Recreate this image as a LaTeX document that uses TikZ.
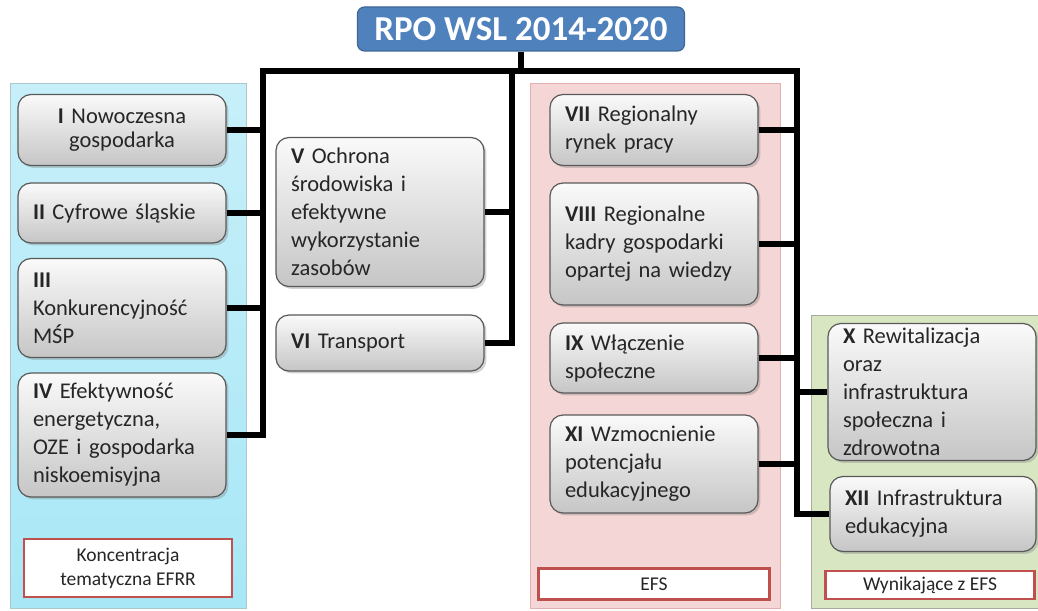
\documentclass[tikz,border=0pt]{standalone}
\usepackage{fontspec}
\setmainfont{Carlito}
\usetikzlibrary{shadows}

\definecolor{tytul}{RGB}{79,129,189}
\definecolor{efrr}{RGB}{168,231,246}
\definecolor{efs}{RGB}{245,214,214}
\definecolor{wyn}{RGB}{216,230,194}
\definecolor{ramka}{RGB}{192,80,77}

% Pixelkoordinaten (y nach unten)
\def\pkt#1#2{({#1},{-(#2)})}

\tikzset{
	os/.style={rounded corners=13pt, draw=black!65, line width=1.2pt,
		top color=gray!4, bottom color=gray!45, drop shadow={opacity=0.35},
		text width=#1, inner xsep=15pt, inner ysep=2pt, align=left,
		font=\fontsize{22.5}{28}\selectfont, text=black!85},
	os/.default=178pt,
	opis/.style={draw=ramka, line width=2.5pt, fill=white, align=center,
		font=\fontsize{19.5}{24}\selectfont, text=black!85},
	polaczenie/.style={line width=6pt, black}
}

\begin{document}
\begin{tikzpicture}[x=1pt,y=1pt]
\useasboundingbox (0,0) rectangle (1038,-610);
\fill[white] (0,0) rectangle (1038,-610);

% tla
\shade[top color=efrr!65, bottom color=efrr, draw=efrr!70!black!60] \pkt{10}{83} rectangle \pkt{246}{608};
\fill[efs, draw=ramka!45] \pkt{530}{83} rectangle \pkt{780}{608};
\fill[wyn, draw=wyn!60!black!70] \pkt{811}{315} rectangle \pkt{1040}{608};

% tytul
\node[rounded corners=7pt, fill=tytul, draw=tytul!80!black, line width=1.2pt,
	minimum width=327pt, minimum height=44pt, text=white,
	font=\fontsize{35}{35}\selectfont\bfseries] (rpo) at (521,-29) {RPO WSL 2014-2020};

% osie
\node[os, align=center, minimum height=71pt, font=\fontsize{22.5}{24}\selectfont] (o1) at (122,-130) {\textbf{I} Nowoczesna\\ gospodarka};
\node[os, minimum height=60pt] (o2) at (122,-213) {\textbf{II} Cyfrowe śląskie};
\node[os, minimum height=99pt] (o3) at (122,-308) {\textbf{III}\\ Konkurencyjność\\ MŚP};
\node[os, minimum height=124pt] (o4) at (122,-435) {\textbf{IV} Efektywność\\ energetyczna,\\ OZE i gospodarka\\ niskoemisyjna};
\node[os, minimum height=149pt] (o5) at (380,-212) {\textbf{V} Ochrona\\ środowiska i\\ efektywne\\ wykorzystanie\\ zasobów};
\node[os, minimum height=56pt] (o6) at (380,-343) {\textbf{VI} Transport};
\node[os, minimum height=71pt] (o7) at (654,-130) {\textbf{VII} Regionalny\\ rynek pracy};
\node[os, minimum height=122pt] (o8) at (654,-244) {\textbf{VIII} Regionalne\\ kadry gospodarki\\ opartej na wiedzy};
\node[os, minimum height=70pt] (o9) at (654,-358) {\textbf{IX} Włączenie\\ społeczne};
\node[os, minimum height=137pt] (o10) at (932,-392) {\textbf{X} Rewitalizacja\\ oraz\\ infrastruktura\\ społeczna i\\ zdrowotna};
\node[os, minimum height=98pt] (o11) at (654,-464) {\textbf{XI} Wzmocnienie\\ potencjału\\ edukacyjnego};
\node[os=176pt, minimum height=75pt] (o12) at (933,-514) {\textbf{XII} Infrastruktura\\ edukacyjna};

% opisy
\node[opis, minimum width=208pt, minimum height=58pt] (f1) at (128,-568) {Koncentracja\\ tematyczna EFRR};
\node[opis, minimum width=231pt, minimum height=31pt] (f2) at (654,-584) {EFS};
\node[opis, minimum width=209pt, minimum height=28pt] (f3) at (930,-585) {Wynikające z EFS};

% polaczenia
\coordinate (sL) at (263,-71);
\coordinate (sM) at (512,-71);
\coordinate (sP) at (797,-71);
\draw[polaczenie] (rpo.south) -- (rpo.south |- sL);
\draw[polaczenie, line cap=rect] (sL) -- (sP);
\draw[polaczenie] (sL) |- (o4.east);
\draw[polaczenie] (sM) |- (o6.east);
\draw[polaczenie] (sP) |- (o12.west);
\foreach \o in {o1,o2,o3}{
	\draw[polaczenie] (\o.east) -- (\o.east -| sL);
}
\draw[polaczenie] (o5.east) -- (o5.east -| sM);
\foreach \o in {o7,o8,o9,o11}{
	\draw[polaczenie] (\o.east) -- (\o.east -| sP);
}
\draw[polaczenie] (o10.west) -- (o10.west -| sP);
\end{tikzpicture}
\end{document}
